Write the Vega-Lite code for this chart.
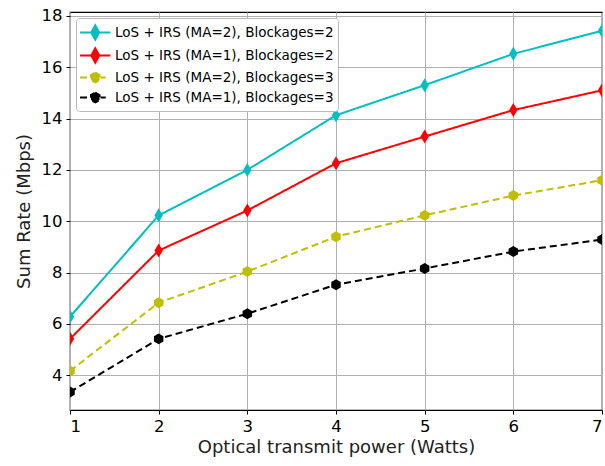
{
  "$schema": "https://vega.github.io/schema/vega-lite/v6.json",
  "width": 532,
  "height": 398,
  "autosize": "none",
  "padding": {"left": 70, "top": 12, "right": 3, "bottom": 56},
  "config": {
    "font": "DejaVu Sans",
    "view": {"stroke": "#000000", "strokeWidth": 1.2},
    "axis": {
      "grid": true, "gridColor": "#b0b0b0", "gridWidth": 1,
      "domain": false, "tickColor": "#000000", "tickSize": 4, "tickWidth": 1,
      "labelFont": "DejaVu Sans", "labelFontSize": 16.5, "labelColor": "#000000",
      "titleFont": "DejaVu Sans", "titleFontSize": 18, "titleFontWeight": "normal", "titleColor": "#222222"
    }
  },
  "data": {"values": [
    {"p": 1, "rate": 6.28, "series": "LoS + IRS (MA=2), Blockages=2", "m": "d"},
    {"p": 2, "rate": 10.23, "series": "LoS + IRS (MA=2), Blockages=2", "m": "d"},
    {"p": 3, "rate": 12.0, "series": "LoS + IRS (MA=2), Blockages=2", "m": "d"},
    {"p": 4, "rate": 14.13, "series": "LoS + IRS (MA=2), Blockages=2", "m": "d"},
    {"p": 5, "rate": 15.3, "series": "LoS + IRS (MA=2), Blockages=2", "m": "d"},
    {"p": 6, "rate": 16.52, "series": "LoS + IRS (MA=2), Blockages=2", "m": "d"},
    {"p": 7, "rate": 17.42, "series": "LoS + IRS (MA=2), Blockages=2", "m": "d"},
    {"p": 1, "rate": 5.42, "series": "LoS + IRS (MA=1), Blockages=2", "m": "d"},
    {"p": 2, "rate": 8.86, "series": "LoS + IRS (MA=1), Blockages=2", "m": "d"},
    {"p": 3, "rate": 10.42, "series": "LoS + IRS (MA=1), Blockages=2", "m": "d"},
    {"p": 4, "rate": 12.26, "series": "LoS + IRS (MA=1), Blockages=2", "m": "d"},
    {"p": 5, "rate": 13.3, "series": "LoS + IRS (MA=1), Blockages=2", "m": "d"},
    {"p": 6, "rate": 14.33, "series": "LoS + IRS (MA=1), Blockages=2", "m": "d"},
    {"p": 7, "rate": 15.1, "series": "LoS + IRS (MA=1), Blockages=2", "m": "d"},
    {"p": 1, "rate": 4.17, "series": "LoS + IRS (MA=2), Blockages=3", "m": "h"},
    {"p": 2, "rate": 6.83, "series": "LoS + IRS (MA=2), Blockages=3", "m": "h"},
    {"p": 3, "rate": 8.04, "series": "LoS + IRS (MA=2), Blockages=3", "m": "h"},
    {"p": 4, "rate": 9.4, "series": "LoS + IRS (MA=2), Blockages=3", "m": "h"},
    {"p": 5, "rate": 10.23, "series": "LoS + IRS (MA=2), Blockages=3", "m": "h"},
    {"p": 6, "rate": 11.0, "series": "LoS + IRS (MA=2), Blockages=3", "m": "h"},
    {"p": 7, "rate": 11.6, "series": "LoS + IRS (MA=2), Blockages=3", "m": "h"},
    {"p": 1, "rate": 3.35, "series": "LoS + IRS (MA=1), Blockages=3", "m": "h"},
    {"p": 2, "rate": 5.42, "series": "LoS + IRS (MA=1), Blockages=3", "m": "h"},
    {"p": 3, "rate": 6.4, "series": "LoS + IRS (MA=1), Blockages=3", "m": "h"},
    {"p": 4, "rate": 7.53, "series": "LoS + IRS (MA=1), Blockages=3", "m": "h"},
    {"p": 5, "rate": 8.16, "series": "LoS + IRS (MA=1), Blockages=3", "m": "h"},
    {"p": 6, "rate": 8.82, "series": "LoS + IRS (MA=1), Blockages=3", "m": "h"},
    {"p": 7, "rate": 9.29, "series": "LoS + IRS (MA=1), Blockages=3", "m": "h"}
  ]},
  "encoding": {
    "x": {"field": "p", "type": "quantitative", "title": "Optical transmit power (Watts)",
      "scale": {"domain": [1, 7], "nice": false, "zero": false},
      "axis": {"values": [1, 2, 3, 4, 5, 6, 7], "labelPadding": 4, "titlePadding": 4}},
    "y": {"field": "rate", "type": "quantitative", "title": "Sum Rate (Mbps)",
      "scale": {"domain": [2.65, 18.15], "nice": false, "zero": false},
      "axis": {"values": [4, 6, 8, 10, 12, 14, 16, 18], "labelPadding": 4, "titlePadding": 8}},
    "color": {"field": "series", "type": "nominal",
      "scale": {
        "domain": ["LoS + IRS (MA=2), Blockages=2", "LoS + IRS (MA=1), Blockages=2", "LoS + IRS (MA=2), Blockages=3", "LoS + IRS (MA=1), Blockages=3"],
        "range": ["#00bfbf", "#ff0000", "#bfbf00", "#000000"]},
      "legend": {
        "title": null, "orient": "top-left", "offset": 6, "labelLimit": 0,
        "labelFont": "DejaVu Sans", "labelFontSize": 13.5, "labelColor": "#000000",
        "labelOffset": 14, "rowPadding": 0, "padding": 4,
        "strokeColor": "#bbbbbb", "fillColor": "#ffffff", "cornerRadius": 3,
        "symbolSize": 361, "symbolStrokeWidth": 2, "symbolOpacity": 1,
        "encode": {"symbols": {"update": {
          "shape": {"signal": "indexof(datum.value, 'Blockages=2') >= 0 ? 'M-1.1,0L2.1,0M0.5,-0.75L0.92,0L0.5,0.75L0.08,0Z' : 'M-1.1,0L-0.05,0M1.05,0L1.6,0M0.5,-0.52L0.95,-0.26L0.95,0.26L0.5,0.52L0.05,0.26L0.05,-0.26Z'"},
          "fill": {"signal": "scale('color', datum.value)"},
          "stroke": {"signal": "scale('color', datum.value)"},
          "strokeDash": {"value": [1, 0]}
        }}}
      }}
  },
  "layer": [
    {
      "mark": {"type": "line", "strokeWidth": 2, "clip": true},
      "encoding": {
        "strokeDash": {"field": "series", "type": "nominal",
          "scale": {
            "domain": ["LoS + IRS (MA=2), Blockages=2", "LoS + IRS (MA=1), Blockages=2", "LoS + IRS (MA=2), Blockages=3", "LoS + IRS (MA=1), Blockages=3"],
            "range": [[1, 0], [1, 0], [7, 4], [7, 4]]},
          "legend": null}
      }
    },
    {
      "transform": [{"filter": "datum.m === 'd'"}],
      "mark": {"type": "point", "filled": true, "opacity": 1, "strokeWidth": 1, "clip": true, "size": 196,
        "shape": "M0,-1L0.6,0L0,1L-0.6,0Z"},
      "encoding": {}
    },
    {
      "transform": [{"filter": "datum.m === 'h'"}],
      "mark": {"type": "point", "filled": true, "opacity": 1, "strokeWidth": 1, "clip": true, "size": 120,
        "shape": "M0,-1L0.866,-0.5L0.866,0.5L0,1L-0.866,0.5L-0.866,-0.5Z"},
      "encoding": {}
    }
  ]
}
